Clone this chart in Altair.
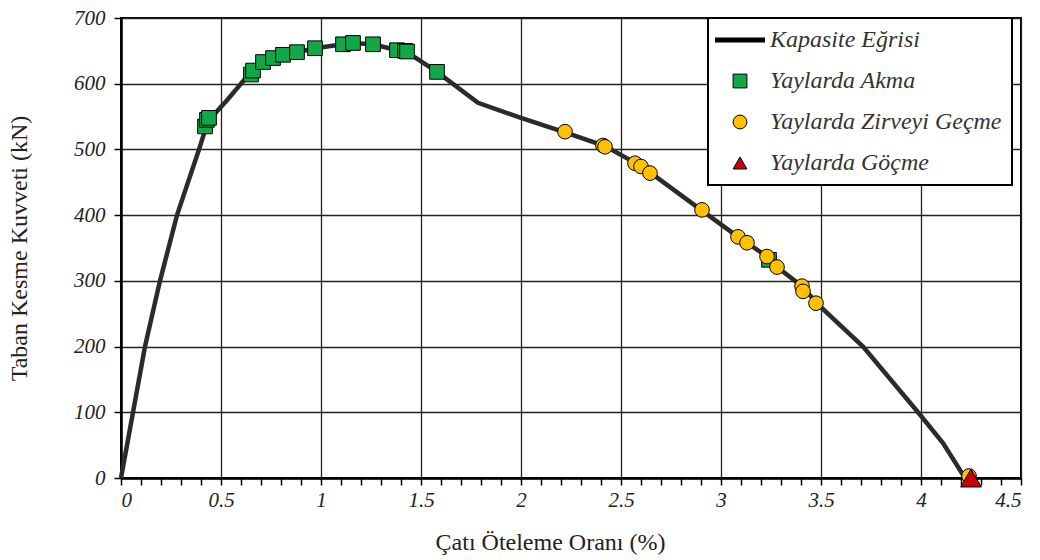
import altair as alt
import pandas as pd

# Capacity curve (Kapasite Eğrisi)
curve_x = [0, 0.06, 0.12, 0.195, 0.28, 0.39, 0.435, 0.53, 0.65, 0.71, 0.76, 0.81, 0.88, 0.97,
           1.11, 1.16, 1.26, 1.38, 1.43, 1.58, 1.785, 2.0, 2.22, 2.42, 2.58, 2.65, 2.9, 3.085,
           3.13, 3.23, 3.28, 3.405, 3.485, 3.71, 3.985, 4.11, 4.22]
curve_y = [0, 100, 200, 300, 400, 500, 543, 575, 618, 633, 639, 644, 648, 654,
           660, 662, 660, 651, 648, 618, 571, 548, 526, 505, 478, 464, 408, 367,
           358, 337, 321, 292, 264, 200, 100, 53, 0]

# Yaylarda Akma (green squares)
akma_x = [0.42, 0.43, 0.44, 0.65, 0.66, 0.71, 0.76, 0.81, 0.88, 0.97, 1.11, 1.16, 1.26,
          1.38, 1.42, 1.43, 1.58, 3.24]
akma_y = [535, 545, 548, 614, 620, 633, 639, 644, 648, 654, 660, 662, 660,
          651, 650, 649, 618, 332]

# Yaylarda Zirveyi Geçme (yellow circles)
zirve_x = [2.22, 2.41, 2.42, 2.57, 2.6, 2.645, 2.905, 3.085, 3.13, 3.23, 3.28, 3.405, 3.41, 3.475, 4.24]
zirve_y = [527, 506, 504, 479, 474, 464, 408, 367, 358, 337, 321, 292, 284, 266, 3]

# Yaylarda Göçme (red triangle)
gocme_x = [4.25]
gocme_y = [0]

series_names = ["Kapasite Eğrisi", "Yaylarda Akma", "Yaylarda Zirveyi Geçme", "Yaylarda Göçme"]
x_tick_values = [0, 0.1, 0.2, 0.3, 0.4, 0.5, 0.6, 0.7, 0.8, 0.9, 1, 1.1, 1.2, 1.3, 1.4, 1.5,
                 1.6, 1.7, 1.8, 1.9, 2, 2.1, 2.2, 2.3, 2.4, 2.5, 2.6, 2.7, 2.8, 2.9, 3, 3.1,
                 3.2, 3.3, 3.4, 3.5, 3.6, 3.7, 3.8, 3.9, 4, 4.1, 4.2, 4.3, 4.4, 4.5]
y_tick_values = [0, 100, 200, 300, 400, 500, 600, 700]

curve_df = pd.DataFrame({"x": curve_x, "y": curve_y})
pts = []
for name, xs, ys in [(series_names[1], akma_x, akma_y),
                     (series_names[2], zirve_x, zirve_y),
                     (series_names[3], gocme_x, gocme_y)]:
    for a, b in zip(xs, ys):
        pts.append({"x": a, "y": b, "series": name})
pts_df = pd.DataFrame(pts)

FONT = "Liberation Serif"
MAJOR = "round(datum.value*10) % 5 == 0"

x_enc = alt.X("x:Q",
              scale=alt.Scale(domain=[0, 4.5], nice=False),
              axis=alt.Axis(
                  title="Çatı Öteleme Oranı (%)",
                  values=x_tick_values,
                  format="~g",
                  labelExpr=MAJOR + " ? datum.label : ''",
                  labelOverlap=False,
                  gridOpacity={"condition": {"test": MAJOR, "value": 1}, "value": 0},
                  tickSize=7,
                  labelPadding=4,
                  titlePadding=20,
                  titleX=429,
              ))
y_enc = alt.Y("y:Q",
              scale=alt.Scale(domain=[0, 700], nice=False),
              axis=alt.Axis(
                  title="Taban Kesme Kuvveti (kN)",
                  values=y_tick_values,
                  labelOverlap=False,
                  tickSize=7,
                  labelPadding=9,
                  titlePadding=42,
              ))

line = alt.Chart(curve_df).mark_line(color="#2b2b2b", strokeWidth=4.5).encode(x=x_enc, y=y_enc)

points = alt.Chart(pts_df).mark_point(filled=True, stroke="black", strokeWidth=1, opacity=1).encode(
    x=x_enc,
    y=y_enc,
    color=alt.Color("series:N",
                    scale=alt.Scale(domain=series_names,
                                    range=["#2b2b2b", "#12a84a", "#ffc000", "#c8000a"]),
                    legend=alt.Legend(
                        title=None,
                        orient="none",
                        legendX=587,
                        legendY=0,
                        fillColor="white",
                        strokeColor="black",
                        padding=10,
                        rowPadding=17,
                        labelFont=FONT,
                        labelFontStyle="italic",
                        labelFontSize=24,
                        labelColor="#333",
                        labelOffset=18,
                        labelLimit=0,
                        symbolOffset=10,
                        symbolStrokeColor="black",
                        symbolStrokeWidth=alt.ExprRef("datum.value === 'Kapasite Eğrisi' ? 5 : 1"),
                        symbolSize=alt.ExprRef("datum.value === 'Kapasite Eğrisi' ? 2500 : 190"),
                        symbolOpacity=1,
                    )),
    shape=alt.Shape("series:N",
                    scale=alt.Scale(domain=series_names,
                                    range=["stroke", "square", "circle", "triangle-up"])),
    size=alt.condition("datum.series === 'Yaylarda Göçme'", alt.value(430), alt.value(215)),
    order=alt.Order("idx:Q"),
).transform_window(idx="row_number()")

chart = alt.layer(line, points).properties(
    width=900, height=460,
    autosize=alt.AutoSizeParams(type="none"),
    padding={"left": 121, "top": 18, "right": 19, "bottom": 82},
).configure_view(
    stroke="black", strokeWidth=2
).configure_axis(
    labelFont=FONT, labelFontStyle="italic", labelFontSize=21, labelColor="#222",
    titleFont=FONT, titleFontWeight="normal", titleFontSize=24, titleColor="#222",
    gridColor="#222", gridWidth=1.3,
    domainColor="black", domainWidth=2.5,
    tickColor="black", tickWidth=1.5,
).configure_legend(
    strokeWidth=2,
)

chart.save("out.html", embed_options={"renderer": "svg", "actions": False})
